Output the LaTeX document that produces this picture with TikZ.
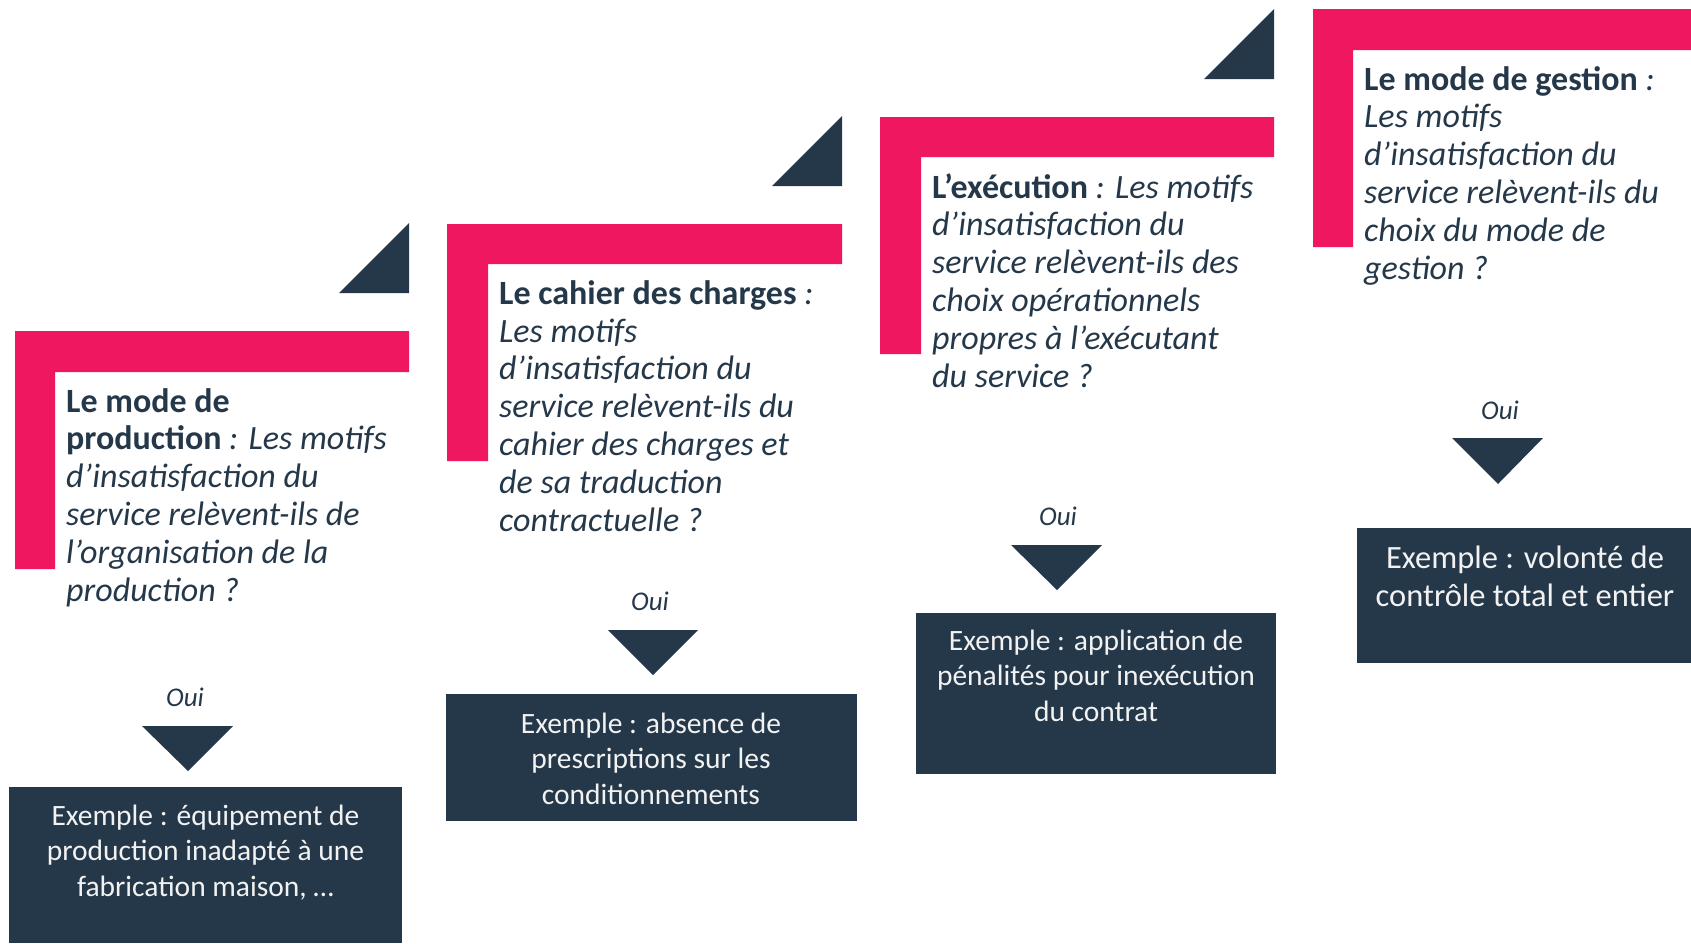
\documentclass[tikz,border=0pt]{standalone}
\usepackage{fontspec}
\setmainfont{Carlito}
\definecolor{pinkL}{RGB}{239,24,96}
\definecolor{navy}{RGB}{37,56,74}
\definecolor{boxtext}{RGB}{242,242,242}
\tikzset{
  question/.style={anchor=base west, align=left, inner sep=0pt, text=navy,
    font=\fontsize{34}{37.8}\selectfont\itshape},
  example/.style={anchor=base, align=center, inner sep=0pt, text=boxtext,
    font=\fontsize{29.5}{35.5}\selectfont},
  bigexample/.style={example, font=\fontsize{32.5}{38}\selectfont},
  oui/.style={anchor=base, inner sep=0pt, text=navy,
    font=\fontsize{27}{30}\selectfont\itshape},
  band/.style={fill=pinkL},
  darkfill/.style={fill=navy},
}
\newcommand{\hd}[1]{{\bfseries\upshape #1}}
\begin{document}
\begin{tikzpicture}[x=1pt,y=-1pt]
\useasboundingbox (0,0) rectangle (1691,943);
% pink L bands
\fill[band] (15,331) -- (409,331) -- (409,372) -- (55,372) -- (55,569) -- (15,569) -- cycle;
\fill[band] (447,224) -- (842,224) -- (842,264) -- (488,264) -- (488,461) -- (447,461) -- cycle;
\fill[band] (880,117) -- (1274,117) -- (1274,157) -- (921,157) -- (921,354) -- (880,354) -- cycle;
\fill[band] (1313,9) -- (1691,9) -- (1691,50) -- (1353,50) -- (1353,247) -- (1313,247) -- cycle;
% corner triangles
\fill[darkfill] (339,293) -- (409,293) -- (409,223) -- cycle;
\fill[darkfill] (772,186) -- (842,186) -- (842,116) -- cycle;
\fill[darkfill] (1204,79) -- (1274,79) -- (1274,9) -- cycle;
% questions (anchored at the baseline of their last line)
\node[question] (q1) at (66,601) {\hd{Le mode de}\\
\hd{production} : Les motifs\\
d’insatisfaction du\\
service relèvent-ils de\\
l’organisation de la\\
production ?};
\node[question] (q2) at (499,531) {\hd{Le cahier des charges} :\\
Les motifs\\
d’insatisfaction du\\
service relèvent-ils du\\
cahier des charges et\\
de sa traduction\\
contractuelle ?};
\node[question] (q3) at (932,387) {\hd{L’exécution} : Les motifs\\
d’insatisfaction du\\
service relèvent-ils des\\
choix opérationnels\\
propres à l’exécutant\\
du service ?};
\node[question] (q4) at (1364,279) {\hd{Le mode de gestion} :\\
Les motifs\\
d’insatisfaction du\\
service relèvent-ils du\\
choix du mode de\\
gestion ?};
% Oui labels
\node[oui] (o1) at (185,706) {Oui};
\node[oui] (o2) at (650,610) {Oui};
\node[oui] (o3) at (1058,525) {Oui};
\node[oui] (o4) at (1500,419) {Oui};
% down triangles
\fill[darkfill] (142,726) -- (233,726) -- (188,771) -- cycle;
\fill[darkfill] (608,630) -- (698,630) -- (653,675) -- cycle;
\fill[darkfill] (1011,545) -- (1102,545) -- (1057,590) -- cycle;
\fill[darkfill] (1452,438) -- (1543,438) -- (1498,484) -- cycle;
% example boxes
\fill[darkfill] (9,787) rectangle (402,943);
\fill[darkfill] (446,694) rectangle (857,821);
\fill[darkfill] (916,613) rectangle (1276,774);
\fill[darkfill] (1357,528) rectangle (1691,663);
\node[example] (e1) at (205.5,896) {Exemple : équipement de\\production inadapté à une\\fabrication maison, …};
\node[example] (e2) at (651,804) {Exemple : absence de\\prescriptions sur les\\conditionnements};
\node[example] (e3) at (1096,721) {Exemple : application de\\pénalités pour inexécution\\du contrat};
\node[bigexample] (e4) at (1525,606) {Exemple : volonté de\\contrôle total et entier};
\end{tikzpicture}
\end{document}
